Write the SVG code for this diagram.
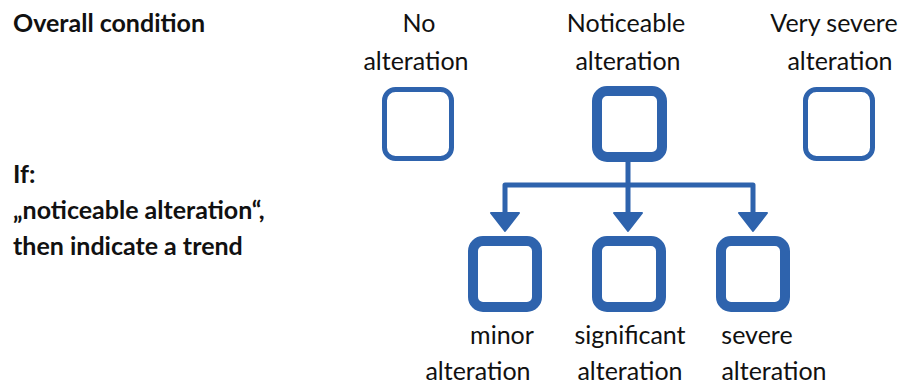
<svg xmlns="http://www.w3.org/2000/svg" width="907" height="385" viewBox="0 0 907 385">
  <style>
    .lbl { font-family: Lato, "Liberation Sans", sans-serif; font-size: 25px; fill: #111; }
    .head { font-family: Lato, "Liberation Sans", sans-serif; font-size: 25px; font-weight: bold; fill: #111; }
    .box { fill: #fff; stroke: #2E63AD; }
    .thin { stroke-width: 5; }
    .thick { stroke-width: 10; }
    .conn { fill: none; stroke: #2E63AD; stroke-width: 5; stroke-linejoin: round; }
    .head-arrow { fill: #2E63AD; stroke: #2E63AD; stroke-width: 2; stroke-linejoin: round; }
  </style>

  <!-- left-hand captions -->
  <g id="captions">
    <text class="head" x="13" y="32">Overall condition</text>
    <text class="head" x="13" y="183">If:</text>
    <text class="head" x="13" y="219">„noticeable alteration“,</text>
    <text class="head" x="13" y="255">then indicate a trend</text>
  </g>

  <!-- connectors: trunk from the middle box, bar, three drops with arrowheads -->
  <g id="connectors">
    <path class="conn" d="M628 162 V185 M505 212 V185 H753 V212 M628 185 V212"/>
    <path class="head-arrow" d="M491 213 H519 L505 231 Z"/>
    <path class="head-arrow" d="M614 213 H642 L628 231 Z"/>
    <path class="head-arrow" d="M739 213 H767 L753 231 Z"/>
  </g>

  <g id="node-no-alteration">
    <text class="lbl" x="419" y="32" text-anchor="middle">No</text>
    <text class="lbl" x="416" y="70" text-anchor="middle">alteration</text>
    <rect class="box thin" x="384.5" y="89.5" width="67" height="69" rx="11"/>
  </g>

  <g id="node-noticeable-alteration">
    <text class="lbl" x="626" y="32" text-anchor="middle">Noticeable</text>
    <text class="lbl" x="628" y="70" text-anchor="middle">alteration</text>
    <rect class="box thick" x="597" y="91" width="65" height="66" rx="10"/>
  </g>

  <g id="node-very-severe-alteration">
    <text class="lbl" x="834" y="32" text-anchor="middle">Very severe</text>
    <text class="lbl" x="840" y="70" text-anchor="middle">alteration</text>
    <rect class="box thin" x="805.5" y="89.5" width="67" height="69" rx="11"/>
  </g>

  <g id="node-minor-alteration">
    <rect class="box thick" x="473" y="241" width="64" height="66" rx="10"/>
    <text class="lbl" x="502" y="344" text-anchor="middle">minor</text>
    <text class="lbl" x="478" y="380" text-anchor="middle">alteration</text>
  </g>

  <g id="node-significant-alteration">
    <rect class="box thick" x="597" y="241" width="64" height="66" rx="10"/>
    <text class="lbl" x="630" y="344" text-anchor="middle">significant</text>
    <text class="lbl" x="630" y="380" text-anchor="middle">alteration</text>
  </g>

  <g id="node-severe-alteration">
    <rect class="box thick" x="721" y="241" width="64" height="66" rx="10"/>
    <text class="lbl" x="757" y="344" text-anchor="middle">severe</text>
    <text class="lbl" x="774" y="380" text-anchor="middle">alteration</text>
  </g>
</svg>
